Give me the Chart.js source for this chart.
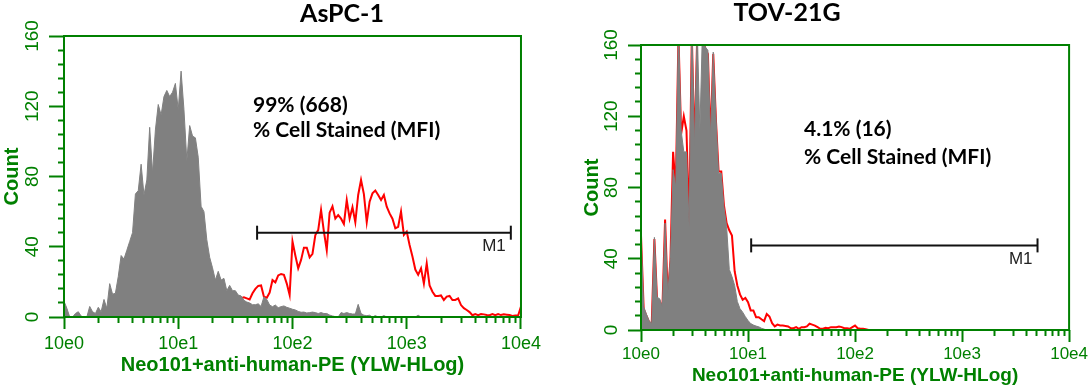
<!DOCTYPE html>
<html>
<head>
<meta charset="utf-8">
<script src="https://cdn.jsdelivr.net/npm/chart.js@4.4.1/dist/chart.umd.min.js"></script>
<style>
  html, body { margin: 0; padding: 0; background: #fff; }
  #wrap { display: flex; width: 1090px; height: 388px; }
  canvas { display: block; }
</style>
</head>
<body>
<div id="wrap">
  <canvas id="aspc" width="545" height="388"></canvas>
  <canvas id="tov" width="545" height="388"></canvas>
</div>
<script>
// log spaced fluorescence channels, 40 per decade
const channels = [
  1, 1.059, 1.122, 1.189, 1.259, 1.334, 1.413, 1.496, 1.585, 1.679,
  1.778, 1.884, 1.995, 2.113, 2.239, 2.371, 2.512, 2.661, 2.818, 2.985,
  3.162, 3.350, 3.548, 3.758, 3.981, 4.217, 4.467, 4.732, 5.012, 5.309,
  5.623, 5.957, 6.310, 6.683, 7.079, 7.499, 7.943, 8.414, 8.913, 9.441,
  10, 10.59, 11.22, 11.89, 12.59, 13.34, 14.13, 14.96, 15.85, 16.79,
  17.78, 18.84, 19.95, 21.13, 22.39, 23.71, 25.12, 26.61, 28.18, 29.85,
  31.62, 33.50, 35.48, 37.58, 39.81, 42.17, 44.67, 47.32, 50.12, 53.09,
  56.23, 59.57, 63.10, 66.83, 70.79, 74.99, 79.43, 84.14, 89.13, 94.41,
  100, 105.9, 112.2, 118.9, 125.9, 133.4, 141.3, 149.6, 158.5, 167.9,
  177.8, 188.4, 199.5, 211.3, 223.9, 237.1, 251.2, 266.1, 281.8, 298.5,
  316.2, 335.0, 354.8, 375.8, 398.1, 421.7, 446.7, 473.2, 501.2, 530.9,
  562.3, 595.7, 631.0, 668.3, 707.9, 749.9, 794.3, 841.4, 891.3, 944.1,
  1000, 1059, 1122, 1189, 1259, 1334, 1413, 1496, 1585, 1679,
  1778, 1884, 1995, 2113, 2239, 2371, 2512, 2661, 2818, 2985,
  3162, 3350, 3548, 3758, 3981, 4217, 4467, 4732, 5012, 5309,
  5623, 5957, 6310, 6683, 7079, 7499, 7943, 8414, 8913, 9441,
  10000
];

const xTickValues = [
  1, 2, 3, 4, 5, 6, 7, 8, 9,
  10, 20, 30, 40, 50, 60, 70, 80, 90,
  100, 200, 300, 400, 500, 600, 700, 800, 900,
  1000, 2000, 3000, 4000, 5000, 6000, 7000, 8000, 9000,
  10000
];
const xDecades = [1, 10, 100, 1000, 10000];
const xTickLabels = ['10e0', '10e1', '10e2', '10e3', '10e4'];
const yTickValues = [0, 8, 16, 24, 32, 40, 48, 56, 64, 72, 80, 88, 96, 104, 112, 120, 128, 136, 144, 152, 160];

// AsPC-1: isotype control (grey) and stained (red)
const aspcControl = [
  9, 5, 0, 0, 2, 3, 0.5, 0, 0, 6,
  3, 2, 5.5, 3, 10, 5, 19, 13, 13.5, 23,
  35, 33, 38, 43, 48, 70, 72, 87, 69.5, 78,
  108, 82, 106.5, 121, 115, 125.5, 129, 125.5, 128, 133,
  118, 140, 118, 89, 109, 103, 102, 91, 63, 60,
  44, 34, 28, 21, 26, 21, 22, 15, 18, 15,
  15, 12.5, 12, 9.5, 8.5, 8, 7, 7, 7.5, 6,
  11.5, 10, 6.8, 5.9, 6.8, 5.3, 5.9, 6.3, 5.5, 5,
  4.4, 4, 3.2, 2.7, 2.8, 2.3, 2.5, 2.8, 2.5, 2,
  2.5, 2, 2, 1.1, 0.6, 0.2, 0, 2.5, 2, 2.5,
  2, 1.7, 1.7, 7.2, 2, 1, 0.8, 1, 0, 0.8,
  0, 0, 0.8, 0, 0, 0, 0, 0, 0, 0,
  0, 0, 0, 0, 1, 0, 0, 0, 0, 0
];
const aspcStained = [
  null, null, null, null, null, null, null, null, null, null,
  null, null, null, null, null, null, null, null, null, null,
  null, null, null, null, null, null, null, null, null, null,
  null, null, null, null, null, null, null, null, null, null,
  null, null, null, null, null, null, null, null, null, null,
  null, null, null, null, null, null, null, null, 6, 7,
  8, 9, 10.8, 11.2, 10.6, 10, 13.5, 16, 17.7, 18,
  11.6, 11, 13.9, 21, 19.7, 23.7, 24.5, 24, 19, 12.5,
  43, 35, 27.7, 32.5, 39.5, 39.5, 34, 36, 46.7, 49.5,
  61, 48.6, 38, 59.4, 63, 56, 58, 56, 53, 66.6,
  56, 62.5, 54, 69.5, 78, 70, 54, 65.7, 70.4, 72,
  69.5, 66.6, 69.5, 62.8, 59, 56, 50.5, 51.4, 60, 46.7,
  48.6, 41, 34.4, 27, 24, 27.7, 19, 30.5, 18, 14.4,
  12, 12, 12.3, 9.7, 11.6, 12, 9.7, 9.7, 10.6, 6.8,
  5, 4, 2.8, 1, 1.7, 1.1, 1.7, 1.5, 1.1, 1,
  1.7, 1, 1.7, 1.1, 1.5, 1.3, 1.1, 0.6, 0.8, 0.8,
  6
];

// TOV-21G
const tovControl = [
  54, 13, 9, 5.3, 3.5, 52, 18.4, 17.5, 13, 60,
  20, 40, 90, 80, 170, 112, 100, 100, 58, 170,
  103, 170, 112, 170, 159, 157, 108, 156, 120, 88,
  88, 69, 58, 34, 30, 25, 16, 12, 10, 7.5,
  5.3, 3.6, 2.8, 2.2, 1.8, 1, 0.5, 0, 0, 0,
  0, 0, 0, 0, 0, 0, 0, 0, 0, 0
];
const tovStained = [
  53, 12, 8, 4.5, 3, 51, 17, 16, 12, 62,
  19, 39, 100, 79, 165, 110, 120, 112, 58, 165,
  100, 165, 170, 165, 158, 155, 106, 155, 118, 89,
  89, 70, 60, 56, 53, 33, 25, 20, 17, 18,
  15.6, 11, 11, 7.2, 7.2, 6, 5, 9, 7.6, 3.8,
  2, 3, 2.5, 2.5, 2.3, 2, 1, 1, 1.6, 0.7,
  1.6, 1.6, 2, 3.5, 3, 2.5, 1.6, 0.7, 0.7, 1.2,
  1, 1.6, 1.6, 1.6, 2, 1.6, 1, 1, 0.7, 1.6,
  2.5, 1, 0.7, 0.7, 0.5, 0
];

// M1 gates: [start, end] and count level
const aspcGate = [49, 8150];
const aspcGateY = 48;
const tovGate = [10.7, 5070];
const tovGateY = 47.5;

const green = '#008000';
Chart.defaults.font.family = '"Liberation Sans", Arial, sans-serif';

// frame box, panel title, stats text and M1 label
const panelText = {
  id: 'panelText',
  afterDraw(chart, args, o) {
    const { ctx, chartArea: a } = chart;
    const xs = chart.scales.x, ys = chart.scales.y;
    ctx.save();
    ctx.strokeStyle = green;
    ctx.lineWidth = 2;
    ctx.strokeRect(a.left, a.top, a.right - a.left, a.bottom - a.top);

    ctx.fillStyle = '#000';
    ctx.textBaseline = 'middle';
    ctx.textAlign = 'center';
    ctx.font = 'bold ' + o.titleSize + 'px Lato';
    ctx.fillText(o.title, o.titleX, o.titleY);

    ctx.textAlign = 'left';
    ctx.font = 'bold ' + o.noteSize + 'px Lato';
    o.notes.forEach((t, i) => ctx.fillText(t, o.noteX, o.noteY[i]));

    ctx.fillStyle = '#222';
    ctx.textAlign = 'right';
    ctx.font = '17px "Liberation Sans"';
    ctx.fillText('M1', xs.getPixelForValue(o.gate[1]) - 5, ys.getPixelForValue(o.gateY) + 14);
    ctx.restore();
  }
};

function makePanel(id, c) {
  return new Chart(document.getElementById(id), {
    type: 'line',
    data: {
      labels: channels,
      datasets: [
        {
          label: 'M1',
          data: [{ x: c.gate[0], y: c.gateY }, { x: c.gate[1], y: c.gateY }],
          borderColor: '#111',
          borderWidth: 2,
          pointStyle: 'line',
          pointRadius: 7,
          pointRotation: 90,
          pointBorderColor: '#111',
          pointBorderWidth: 2,
          order: 0
        },
        {
          label: 'control',
          data: c.control,
          borderColor: '#808080',
          backgroundColor: '#808080',
          borderWidth: 1,
          fill: 'origin',
          pointRadius: 0,
          order: 1
        },
        {
          label: 'stained',
          data: c.stained,
          borderColor: '#ff0000',
          borderWidth: 2,
          fill: false,
          pointRadius: 0,
          order: 2
        }
      ]
    },
    options: {
      responsive: false,
      animation: false,
      devicePixelRatio: 1,
      layout: { padding: { top: c.padTop, right: c.padRight, left: 0, bottom: 0 } },
      elements: { line: { tension: 0 } },
      plugins: {
        legend: { display: false },
        tooltip: { enabled: false },
        panelText: {
          title: c.title, titleSize: 25, titleX: c.titleX, titleY: c.titleY,
          notes: c.notes, noteSize: 21, noteX: c.noteX, noteY: c.noteY,
          gate: c.gate, gateY: c.gateY
        }
      },
      scales: {
        x: {
          type: 'logarithmic',
          min: 1,
          max: 10000,
          afterBuildTicks: (axis) => { axis.ticks = xTickValues.map(v => ({ value: v })); },
          afterFit: (axis) => { axis.height = c.xHeight; },
          border: { display: false },
          grid: {
            drawOnChartArea: false,
            tickLength: 12,
            tickWidth: 2,
            tickColor: green,
            tickBorderDash: (t) => xDecades.includes(t.tick.value) ? [] : [6, 40]
          },
          ticks: {
            autoSkip: false,
            minRotation: 0,
            maxRotation: 0,
            color: green,
            padding: c.xTickPad,
            font: { size: c.xTickSize },
            callback: (v) => {
              const i = xDecades.indexOf(v);
              return i >= 0 ? xTickLabels[i] : '';
            }
          },
          title: {
            display: true,
            text: 'Neo101+anti-human-PE (YLW-HLog)',
            color: green,
            font: { size: c.xTitleSize, weight: 'bold' },
            padding: { top: 0, bottom: c.xTitlePad }
          }
        },
        y: {
          min: 0,
          max: 160,
          afterBuildTicks: (axis) => { axis.ticks = yTickValues.map(v => ({ value: v })); },
          afterFit: (axis) => { axis.width = c.yWidth; },
          border: { display: false },
          grid: {
            drawOnChartArea: false,
            tickLength: c.yTickLen,
            tickWidth: 2,
            tickColor: green,
            tickBorderDash: (t) => t.tick.value % 40 === 0 ? [] : [0, c.yTickLen - 6, 6, 0]
          },
          ticks: {
            autoSkip: false,
            minRotation: 90,
            maxRotation: 90,
            crossAlign: 'center',
            color: green,
            padding: 0,
            font: { size: 19 },
            callback: (v) => v % 40 === 0 ? String(v) : ''
          },
          title: {
            display: true,
            text: 'Count',
            color: green,
            font: { size: 20, weight: 'bold' },
            padding: { top: c.yTitlePad, bottom: 0 }
          }
        }
      }
    },
    plugins: [panelText]
  });
}

makePanel('aspc', {
  control: aspcControl, stained: aspcStained, gate: aspcGate, gateY: aspcGateY,
  padTop: 36, padRight: 23, yWidth: 64, xHeight: 71, yTickLen: 15, yTitlePad: 0,
  xTickPad: 4, xTickSize: 18, xTitleSize: 20, xTitlePad: 11,
  title: 'AsPC-1', titleX: 342, titleY: 14,
  notes: ['99% (668)', '% Cell Stained (MFI)'], noteX: 253, noteY: [105, 130]
});

makePanel('tov', {
  control: tovControl, stained: tovStained, gate: tovGate, gateY: tovGateY,
  padTop: 45, padRight: 20, yWidth: 96, xHeight: 58, yTickLen: 13, yTitlePad: 35,
  xTickPad: 2, xTickSize: 17, xTitleSize: 19, xTitlePad: 1,
  title: 'TOV-21G', titleX: 242, titleY: 13,
  notes: ['4.1% (16)', '% Cell Stained (MFI)'], noteX: 259, noteY: [129, 157]
});
</script>
</body>
</html>
